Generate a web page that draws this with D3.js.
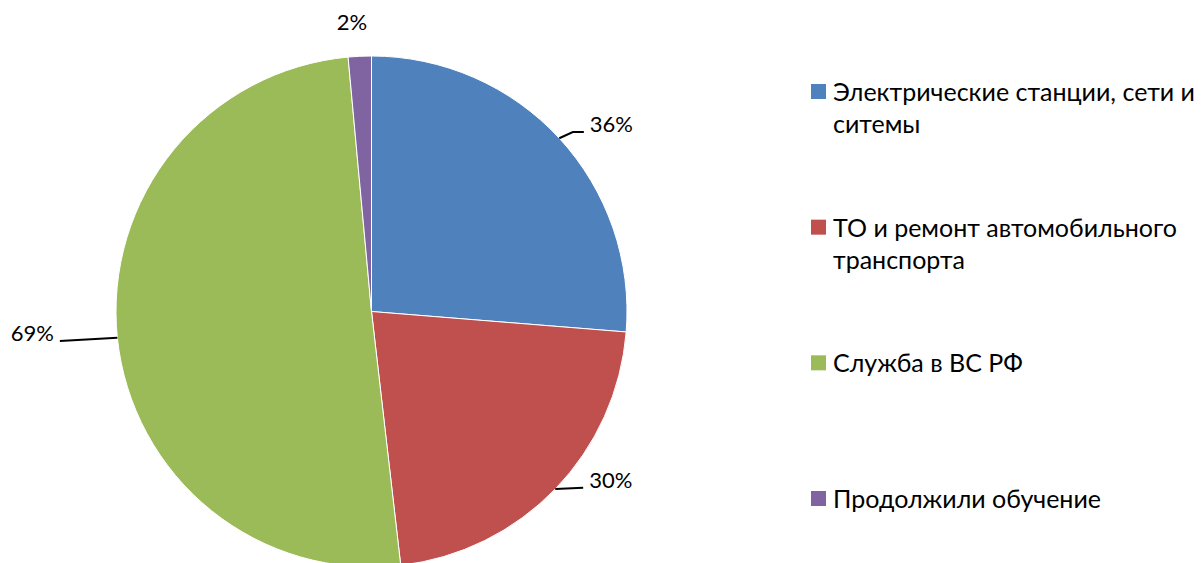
<!DOCTYPE html>
<html>
<head>
<meta charset="utf-8">
<script src="https://cdn.jsdelivr.net/npm/d3@7"></script>
<style>
  html, body { margin: 0; padding: 0; background: #fff; }
  svg { display: block; font-family: Lato, "Open Sans", sans-serif; }
</style>
</head>
<body>
<div id="chart"></div>
<script>
const categories = [
  'Электрические станции, сети и ситемы',
  'ТО и ремонт автомобильного транспорта',
  'Служба в ВС РФ',
  'Продолжили обучение'
];
const values = [36, 30, 69, 2];
const valueLabels = ['36%', '30%', '69%', '2%'];
const legendLines = [
  ['Электрические станции, сети и', 'ситемы'],
  ['ТО и ремонт автомобильного', 'транспорта'],
  ['Служба в ВС РФ'],
  ['Продолжили обучение']
];
const COLORS = ['#4F81BD', '#C0504D', '#9BBB59', '#8064A2'];

// label placement: polar anchor (deg clockwise from top, radius), elbow length, side
const LABEL_LAYOUT = [
  { angle: 49.8, r: 278, elbow: 11, anchor: 'start', line: true },
  { angle: 129.8, r: 275.5, elbow: 0, anchor: 'start', line: true },
  { angle: 264.6, r: 313, elbow: 0, anchor: 'end', line: true },
  { angle: 356.0, r: 282, elbow: 0, anchor: 'middle', line: false }
];

const width = 1203;
const height = 563;
const cx = 371.5;
const cy = 311.5;
const radius = 255.5;

const svg = d3.select('#chart')
  .append('svg')
  .attr('width', width)
  .attr('height', height);

const g = svg.append('g').attr('transform', `translate(${cx},${cy})`);

const pie = d3.pie().sort(null).value(d => d);
const arcs = pie(values);
const arc = d3.arc().innerRadius(0).outerRadius(radius);

g.selectAll('path.slice')
  .data(arcs)
  .enter()
  .append('path')
  .attr('class', 'slice')
  .attr('d', arc)
  .attr('fill', (d, i) => COLORS[i])
  .attr('stroke', '#fff')
  .attr('stroke-width', 1);

const polar = (deg, r) => {
  const a = deg * Math.PI / 180;
  return [r * Math.sin(a), -r * Math.cos(a)];
};

arcs.forEach((d, i) => {
  const lay = LABEL_LAYOUT[i];
  const mid = (d.startAngle + d.endAngle) / 2 * 180 / Math.PI;
  const edge = polar(mid, radius);
  const end = polar(lay.angle, lay.r);
  if (lay.line) {
    const pts = [edge];
    if (lay.elbow) pts.push([end[0] - lay.elbow, end[1]]);
    pts.push(end);
    g.append('path')
      .attr('d', d3.line()(pts))
      .attr('fill', 'none')
      .attr('stroke', '#000')
      .attr('stroke-width', 2);
  }
  const gap = lay.anchor === 'start' ? 6 : lay.anchor === 'end' ? -6 : 0;
  g.append('text')
    .attr('x', end[0] + gap)
    .attr('y', end[1])
    .attr('text-anchor', lay.anchor)
    .attr('font-size', '22px')
    .attr('fill', '#000')
    .text(valueLabels[i]);
});

// legend
const legendX = 811;
const legendRowY = d3.scaleLinear().domain([0, categories.length - 1]).range([92, 499]);
const legend = svg.append('g');
categories.forEach((c, i) => {
  const row = legend.append('g').attr('transform', `translate(${legendX},${legendRowY(i)})`);
  row.append('rect')
    .attr('x', 0)
    .attr('y', -8)
    .attr('width', 15)
    .attr('height', 15)
    .attr('fill', COLORS[i]);
  const t = row.append('text')
    .attr('x', 22)
    .attr('y', 9)
    .attr('font-size', '25px')
    .attr('fill', '#000');
  legendLines[i].forEach((ln, j) => {
    t.append('tspan').attr('x', 22).attr('dy', j === 0 ? 0 : 32).text(ln);
  });
});
</script>
</body>
</html>
